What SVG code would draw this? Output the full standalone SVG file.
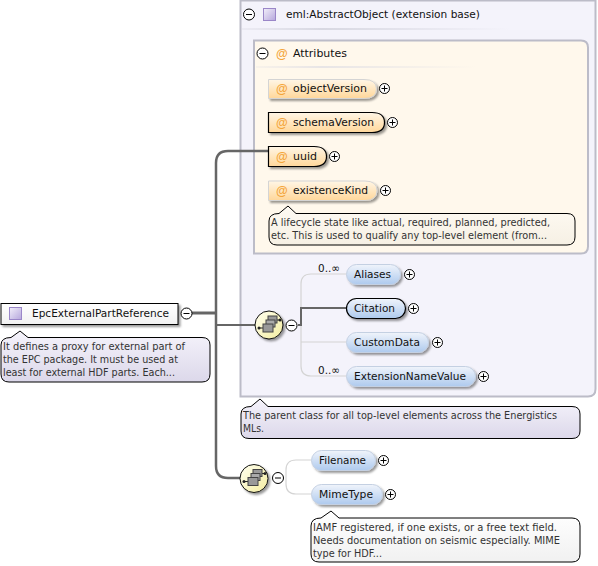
<svg xmlns="http://www.w3.org/2000/svg" width="598" height="566" viewBox="0 0 598 566">
<defs>
<style>
text{font-family:"DejaVu Sans","Liberation Sans",sans-serif;fill:#111}
.lb{font-size:11px}
.nt{font-size:10.5px;fill:#333}
.at{font-family:"Liberation Sans",sans-serif;font-size:12px;fill:#f4a53a;font-weight:bold}
.th{fill:none;stroke:#666;stroke-width:2.5}
.m{stroke-width:2}
.tn{fill:none;stroke:#d4d4d4;stroke-width:1.2}
.el{fill:url(#gb);stroke:#c4d0e2;stroke-width:1;filter:url(#sh)}
.att{fill:url(#go);stroke:#d4d4d4;stroke-width:1;filter:url(#sh)}
.req{stroke:#000;stroke-width:1.2}
.circ{fill:#fff;stroke:#000;stroke-width:1}
.sign{fill:none;stroke:#000;stroke-width:1}
.seq{fill:url(#gy);stroke:#111;stroke-width:1;filter:url(#sh)}
.note{stroke:#000;stroke-width:1}
.ic{fill:url(#gp);stroke:#9a86c8;stroke-width:1}
</style>
<linearGradient id="gb" x1="0" y1="0" x2="0" y2="1"><stop offset="0" stop-color="#f0f4fb"/><stop offset="1" stop-color="#aecaee"/></linearGradient>
<linearGradient id="go" x1="0" y1="0" x2="0" y2="1"><stop offset="0" stop-color="#fff6e6"/><stop offset="1" stop-color="#ffd79a"/></linearGradient>
<linearGradient id="gy" x1="0" y1="0" x2="1" y2="1"><stop offset="0" stop-color="#fffff0"/><stop offset="1" stop-color="#f4eda0"/></linearGradient>
<linearGradient id="gp" x1="0" y1="0" x2="1" y2="1"><stop offset="0" stop-color="#f2effa"/><stop offset="1" stop-color="#b5a6dc"/></linearGradient>
<linearGradient id="gn" x1="0" y1="0" x2="0" y2="1"><stop offset="0" stop-color="#f5f3fb"/><stop offset="1" stop-color="#dcd8ea"/></linearGradient>
<linearGradient id="gw" x1="0" y1="0" x2="0" y2="1"><stop offset="0" stop-color="#fff"/><stop offset="1" stop-color="#f1f1f1"/></linearGradient>
<linearGradient id="gc" x1="0" y1="0" x2="0" y2="1"><stop offset="0" stop-color="#fefaf3"/><stop offset="1" stop-color="#f6f0e4"/></linearGradient>
<linearGradient id="gl" x1="0" y1="0" x2="1" y2="0"><stop offset="0" stop-color="#d8d8e2" stop-opacity=".3"/><stop offset=".3" stop-color="#d8d8e2"/><stop offset="1" stop-color="#d8d8e2" stop-opacity="0"/></linearGradient>
<filter id="sh" x="-10%" y="-20%" width="125%" height="150%"><feDropShadow dx="2" dy="2" stdDeviation="1" flood-color="#000" flood-opacity=".4"/></filter>
<g id="plus"><circle class="circ" r="5"/><path class="sign" d="M-3 0H3M0-3V3"/></g>
<g id="minus"><circle class="circ" r="5.5"/><path class="sign" d="M-3 0H3"/></g>
<g id="seqicon"><path d="M-10 3H-4M8-5H11" stroke="#222" stroke-width="1.2" fill="none"/><circle cx="-10" cy="3" r="1.5" fill="#222"/><circle cx="11" cy="-5" r="1.5" fill="#222"/><rect x="-1" y="-9" width="9" height="7" fill="#999" stroke="#444"/><rect x="-3" y="-5" width="9" height="7" fill="#aaa" stroke="#444"/><rect x="-6" y="-1" width="10" height="8" fill="#999" stroke="#444"/></g>
</defs>
<rect width="598" height="566" fill="#fff"/>

<g id="base">
<path d="M240.500 0.500H595.500V389Q595.500 396.500 588 396.500H240.500Z" fill="#f4f3fb" stroke="#bcbcc8" stroke-width="2"/>
<use href="#minus" x="249" y="14.500"/>
<rect x="263.500" y="8.500" width="12" height="12" class="ic"/>
<text class="lb" x="286" y="18" textLength="194" lengthAdjust="spacingAndGlyphs">eml:AbstractObject (extension base)</text>
<rect x="242" y="28" width="268" height="2" fill="url(#gl)"/>
</g>

<g id="attributes">
<path d="M254 40.500H581Q588 40.500 588 47.500V246.500Q588 253.500 581 253.500H254Z" fill="#fff8ec" stroke="#bcbcc8" stroke-width="2"/>
<use href="#minus" x="262.500" y="53.500"/>
<text class="at" x="276" y="58">@</text>
<text class="lb" x="293" y="57" textLength="54" lengthAdjust="spacingAndGlyphs">Attributes</text>
<rect x="256" y="66" width="220" height="2" fill="url(#gl)" opacity=".6"/>
</g>

<g id="connectors">
<path class="th" style="stroke-width:3" d="M192 313H216"/>
<path class="th m" d="M216 325H256"/>
<path class="th" d="M268 151H228Q216 151 216 163V466Q216 478 228 478H240"/>
<path class="tn" d="M346 274H311Q301 274 301 284V366Q301 376 311 376H346M301 342H346"/>
<path class="th m" d="M298 325H301V308H346"/>
<path class="tn" d="M311 460H296Q286 460 286 470V484Q286 494 296 494H311"/>
</g>

<g id="objectVersion"><path class="att" d="M268.500 79.500H364Q376.500 79.500 376.500 89Q376.500 98.500 364 98.500H268.500Z"/><text class="at" x="276" y="93">@</text><text class="lb" x="293" y="92" textLength="74" lengthAdjust="spacingAndGlyphs">objectVersion</text><use href="#plus" x="384.500" y="88.500"/></g>
<g id="schemaVersion"><path class="att req" d="M268.500 112.500H372Q384.500 112.500 384.500 122.500Q384.500 132.500 372 132.500H268.500Z"/><text class="at" x="276" y="127">@</text><text class="lb" x="293" y="126" textLength="81" lengthAdjust="spacingAndGlyphs">schemaVersion</text><use href="#plus" x="392.500" y="122.500"/></g>
<g id="uuid"><path class="att req" d="M268.500 146.500H314Q326.500 146.500 326.500 156.500Q326.500 166.500 314 166.500H268.500Z"/><text class="at" x="276" y="161">@</text><text class="lb" x="293" y="160" textLength="24" lengthAdjust="spacingAndGlyphs">uuid</text><use href="#plus" x="334.500" y="156.500"/></g>
<g id="existenceKind"><path class="att" d="M268.500 181H365Q377 181 377 190.500Q377 200.500 365 200.500H268.500Z"/><text class="at" x="276" y="195">@</text><text class="lb" x="293" y="194" textLength="75" lengthAdjust="spacingAndGlyphs">existenceKind</text><use href="#plus" x="385.500" y="190.500"/>
<path class="note" fill="url(#gc)" d="M279 213.500L288 206L296 213.500H567Q575 213.500 575 221V237Q575 245 567 245H277Q269 245 269 237V221Q269 213.500 279 213.500Z"/>
<text class="nt" x="271" y="226" textLength="279" lengthAdjust="spacingAndGlyphs">A lifecycle state like actual, required, planned, predicted,</text>
<text class="nt" x="271" y="239" textLength="276" lengthAdjust="spacingAndGlyphs">etc. This is used to qualify any top-level element (from...</text></g>

<g id="seq1"><circle class="seq" cx="269" cy="325" r="14"/><use href="#seqicon" x="269" y="325"/><use href="#minus" x="291.500" y="325.500"/></g>
<g id="Aliases"><rect class="el" x="346.500" y="264.500" width="54" height="20" rx="10"/><text class="lb" x="354" y="278" textLength="37" lengthAdjust="spacingAndGlyphs">Aliases</text><use href="#plus" x="409.500" y="274.500"/><text class="lb" x="318" y="272" textLength="22" lengthAdjust="spacingAndGlyphs">0..∞</text></g>
<g id="Citation"><rect class="el req" x="346.500" y="298.500" width="59" height="20" rx="10"/><text class="lb" x="354" y="312" textLength="41" lengthAdjust="spacingAndGlyphs">Citation</text><use href="#plus" x="413.500" y="308.500"/></g>
<g id="CustomData"><rect class="el" x="346.500" y="332.500" width="82" height="20" rx="10"/><text class="lb" x="354" y="346" textLength="66" lengthAdjust="spacingAndGlyphs">CustomData</text><use href="#plus" x="437.500" y="342.500"/></g>
<g id="ExtensionNameValue"><rect class="el" x="346.500" y="366.500" width="129" height="20" rx="10"/><text class="lb" x="354" y="380" textLength="112" lengthAdjust="spacingAndGlyphs">ExtensionNameValue</text><use href="#plus" x="483.500" y="376.500"/><text class="lb" x="318" y="374" textLength="22" lengthAdjust="spacingAndGlyphs">0..∞</text></g>

<g id="baseNote"><path class="note" fill="url(#gn)" d="M251 406.500L260 399L268 406.500H572Q580 406.500 580 414V431Q580 438.500 572 438.500H249Q241 438.500 241 431V414Q241 406.500 251 406.500Z"/>
<text class="nt" x="243" y="419" textLength="314" lengthAdjust="spacingAndGlyphs">The parent class for all top-level elements across the Energistics</text>
<text class="nt" x="243" y="432" textLength="21" lengthAdjust="spacingAndGlyphs">MLs.</text></g>

<g id="EpcExternalPartReference"><rect x="1" y="303.500" width="177" height="21" fill="url(#gw)" stroke="#000" stroke-width="1" filter="url(#sh)"/><rect x="9.500" y="307.500" width="12" height="12" class="ic"/><text class="lb" x="32" y="317" textLength="137" lengthAdjust="spacingAndGlyphs">EpcExternalPartReference</text><use href="#minus" x="186.500" y="313.500"/>
<path class="note" fill="url(#gn)" d="M11 337.500L20 331L28 337.500H202Q210 337.500 210 345V374Q210 382 202 382H9Q1 382 1 374V345Q1 337.500 11 337.500Z"/>
<text class="nt" x="3" y="350" textLength="182" lengthAdjust="spacingAndGlyphs">It defines a proxy for external part of</text>
<text class="nt" x="3" y="363" textLength="175" lengthAdjust="spacingAndGlyphs">the EPC package. It must be used at</text>
<text class="nt" x="3" y="376" textLength="172" lengthAdjust="spacingAndGlyphs">least for external HDF parts. Each...</text></g>

<g id="seq2"><circle class="seq" cx="254" cy="478.500" r="14"/><use href="#seqicon" x="254" y="478.500"/><use href="#minus" x="278" y="478"/></g>
<g id="Filename"><rect class="el" x="311.500" y="450.500" width="64" height="20" rx="10"/><text class="lb" x="319" y="464" textLength="47" lengthAdjust="spacingAndGlyphs">Filename</text><use href="#plus" x="383.500" y="460.500"/></g>
<g id="MimeType"><rect class="el" x="311.500" y="484.500" width="71" height="20" rx="10"/><text class="lb" x="319" y="498" textLength="54" lengthAdjust="spacingAndGlyphs">MimeType</text><use href="#plus" x="390.500" y="494.500"/>
<path class="note" fill="url(#gw)" d="M321 518L331 511L339 518H572Q580 518 580 526V554Q580 562 572 562H319Q311 562 311 554V526Q311 518 321 518Z"/>
<text class="nt" x="313" y="531" textLength="244" lengthAdjust="spacingAndGlyphs">IAMF registered, if one exists, or a free text field.</text>
<text class="nt" x="313" y="544" textLength="247" lengthAdjust="spacingAndGlyphs">Needs documentation on seismic especially. MIME</text>
<text class="nt" x="313" y="557" textLength="69" lengthAdjust="spacingAndGlyphs">type for HDF...</text></g>
</svg>
